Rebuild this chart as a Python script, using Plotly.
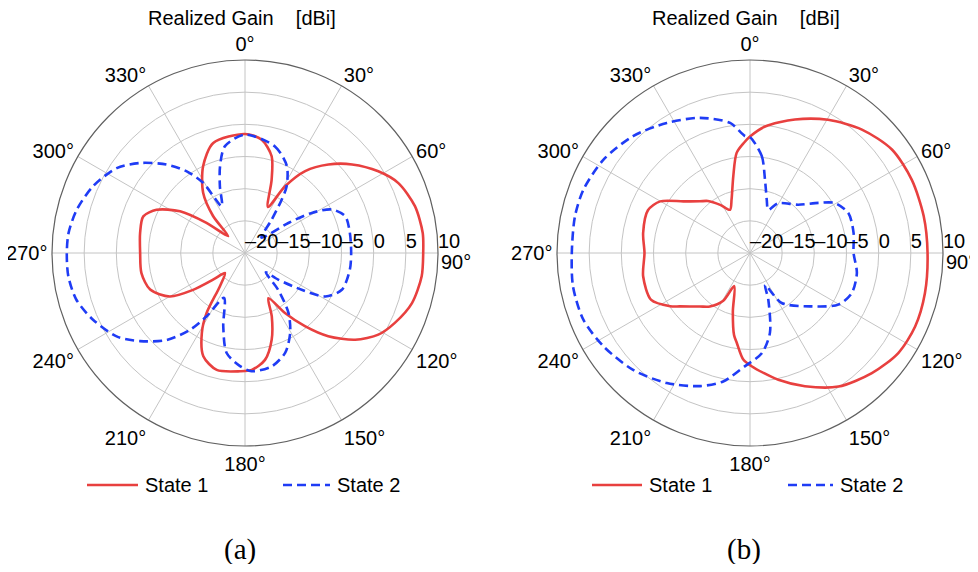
import plotly.graph_objects as go

# ---- data (angle in degrees, realized gain in dBi) ----
# (a) State 1
theta_a1 = [0, 8.4, 15.4, 20, 26.5, 31, 36.3, 43.3, 50.4, 58.5, 65.5, 74.6, 83.6, 90, 97.5,
            106.7, 115, 121.5, 128.2, 135, 140.7, 146.3, 152.6, 157.1, 162.9, 169.4, 176.7,
            182.4, 193.6, 202, 208.4, 212.6, 217, 225, 230, 234.6, 240, 248.9, 259, 270,
            280.8, 289.8, 296, 302.7, 308, 315, 319.2, 325.2, 334.3, 343.9, 360]
gain_a1 = [-1.5, -2.2, -4.4, -7.9, -12.0, -7.9, -4.2, -1.1, 1.6, 4.3, 6.2, 7.4, 7.8, 7.7, 7.7,
           7.1, 5.7, 4.3, 1.8, -1.7, -5.3, -8.8, -12.1, -9.3, -5.9, -3.1, -1.8,
           -1.6, -1.3, -2.7, -5.9, -8.9, -13.5, -15.6, -13.6, -10.1, -6.5, -4.2, -3.6, -3.7,
           -3.4, -3.2, -4.7, -8.0, -12.4, -16.3, -12.4, -8.6, -5.0, -2.2, -1.5]

# (a) State 2
theta_a2 = [0, 15.7, 25.7, 32, 34.5, 38.7, 47, 55.3, 59, 63.4, 69.9, 79, 90, 99, 110.8,
            118.4, 123, 128.7, 133, 138, 144, 150.6, 158, 166.7, 176.8, 182.5, 190.4,
            196.5, 205, 211.2, 215.6, 222, 230, 237, 246.3, 254.5, 262.5, 270, 276.5,
            284.4, 293.7, 303.5, 310.6, 318.4, 324.5, 329.2, 333.5, 339.4, 343.9, 349.4, 360]
gain_a2 = [-1.6, -2.8, -5.0, -7.8, -9.9, -13.4, -16.5, -11.8, -7.9, -4.9, -3.4, -3.4, -3.5, -3.5, -3.9,
           -5.8, -9.5, -13.4, -15.6, -12.3, -8.5, -5.7, -3.3, -1.9, -1.6, -2.4, -4.2,
           -8.1, -12.3, -8.5, -5.3, -1.8, 1.3, 3.8, 5.8, 7.2, 7.7, 7.7, 7.6,
           7.0, 5.8, 3.9, 1.5, -1.6, -4.4, -7.3, -11.9, -8.9, -6.0, -3.1, -1.6]

# (b) State 1
theta_b1 = [0, 6.8, 18.6, 30.4, 42.2, 53.9, 65.6, 78, 90, 102.9, 114, 124, 134.6, 146.5,
            157.6, 167.4, 179.2, 183.6, 188.4, 191, 196.3, 205.5, 209.3, 216.9, 223.2,
            232.7, 236.3, 244.6, 257.7, 270, 280.6, 292.7, 299.9, 307.8, 315.9, 321,
            328.2, 335.2, 341, 347.7, 352.4, 357, 360]
gain_b1 = [-1.9, -0.2, 1.9, 4.0, 5.9, 7.3, 7.6, 7.6, 7.6, 7.9, 8.1, 7.8, 6.6, 4.9,
           2.4, 0.2, -2.4, -3.4, -5.9, -7.0, -10.5, -14.3, -11.5, -9.6, -8.6,
           -6.3, -5.1, -3.0, -3.0, -3.6, -3.1, -2.8, -3.9, -6.9, -8.8, -9.6,
           -11.2, -12.6, -11.2, -7.8, -4.3, -2.8, -1.9]

# (b) State 2
theta_b2 = [0, 6.9, 11.6, 17.4, 22.9, 29.5, 45, 53.8, 59.5, 67.9, 79, 90, 100.6, 111.5,
            120.3, 130.8, 147.6, 154.7, 158.6, 166, 173.3, 182.5, 191.8, 200.6, 212.6,
            225, 237.5, 248.2, 259.3, 270, 281.8, 290.8, 302.5, 315, 327.4, 339.7,
            351.3, 357.5, 360]
gain_b2 = [-2.0, -4.8, -8.4, -11.3, -12.7, -11.1, -9.4, -6.8, -4.7, -3.5, -3.6, -3.9, -3.1, -3.0,
           -4.1, -7.3, -10.8, -14.5, -12.2, -7.2, -4.3, -2.4, 0.4, 2.1, 4.0,
           5.7, 7.0, 7.9, 8.0, 7.7, 7.8, 7.7, 7.0, 5.7, 4.0, 2.4,
           0.45, -1.8, -2.0]

r_ticks = [-20, -15, -10, -5, 0, 5, 10]
r_tick_text = ["\u201320", "\u201315", "\u201310", "\u20135", "0", "5", "10"]
ang_ticks = list(range(0, 360, 30))
# 90° label is written separately, below the "10" radial label
ang_tick_text = ["" if a == 90 else f"{a}°" for a in ang_ticks]
series_names = ["State 1", "State 2"]

RED = "#e8403f"
BLUE = "#1f3cf5"
DASH = "9px,5px"
FONT = "Liberation Sans, Arial, sans-serif"

# page body has an 8px margin, so the figure is 16px smaller than the window
W, H, OFF = 962, 556, 8


def px(x):
    return (x - OFF) / W


def py(y):
    return 1 - (y - OFF) / H


fig = go.Figure()

panels = [("polar", theta_a1, gain_a1, theta_a2, gain_a2),
          ("polar2", theta_b1, gain_b1, theta_b2, gain_b2)]

for sub, t1, g1, t2, g2 in panels:
    fig.add_trace(go.Scatterpolar(theta=t1, r=g1, mode="lines", name=series_names[0],
                                  line=dict(color=RED, width=2.6, shape="spline", smoothing=0.8),
                                  subplot=sub, showlegend=False))
    fig.add_trace(go.Scatterpolar(theta=t2, r=g2, mode="lines", name=series_names[1],
                                  line=dict(color=BLUE, width=2.6, dash=DASH,
                                            shape="spline", smoothing=0.8),
                                  subplot=sub, showlegend=False))
    # radial tick labels along the 90 deg spoke
    fig.add_trace(go.Scatterpolar(theta=[90] * len(r_ticks), r=r_ticks, mode="text",
                                  text=r_tick_text, textposition="top right",
                                  textfont=dict(size=20, color="black", family=FONT),
                                  cliponaxis=False, showlegend=False, hoverinfo="skip",
                                  subplot=sub))

polar_style = dict(
    bgcolor="white",
    radialaxis=dict(range=[-20, 10], tickvals=r_ticks, showticklabels=False,
                    ticks="", showline=False, gridcolor="#c4c4c4", gridwidth=1),
    angularaxis=dict(rotation=90, direction="clockwise", tickmode="array",
                     tickvals=ang_ticks, ticktext=ang_tick_text,
                     ticks="", showline=True, linecolor="#606060", linewidth=1.2,
                     gridcolor="#c4c4c4", gridwidth=1,
                     tickfont=dict(size=20, color="black", family=FONT)),
)

fig.update_layout(
    width=W, height=H,
    paper_bgcolor="white",
    margin=dict(l=0, r=0, t=0, b=0),
    font=dict(family=FONT, color="black"),
    polar=dict(domain=dict(x=[px(52), px(438)], y=[py(446), py(60)]), **polar_style),
    polar2=dict(domain=dict(x=[px(557), px(943)], y=[py(446), py(60)]), **polar_style),
    showlegend=False,
)

nb = "\u00a0"
# titles, captions and the 90° labels
for cx, cap_x, cap, x90 in [(242, 240, "(a)", 440), (746, 744, "(b)", 945)]:
    fig.add_annotation(x=px(cx), y=py(18), xref="paper", yref="paper",
                       xanchor="center", yanchor="middle",
                       text=f"Realized Gain{nb * 3} [dBi]", showarrow=False,
                       font=dict(size=20, color="black", family=FONT))
    fig.add_annotation(x=px(cap_x), y=py(549), xref="paper", yref="paper",
                       xanchor="center", yanchor="middle",
                       text=cap, showarrow=False,
                       font=dict(size=29, color="black",
                                 family="Liberation Serif, Times New Roman, serif"))
    fig.add_annotation(x=px(x90), y=py(262), xref="paper", yref="paper",
                       xanchor="left", yanchor="middle", text="90°", showarrow=False,
                       borderpad=0, font=dict(size=20, color="black", family=FONT))

# legends under each panel
legend_rows = [(87, 138, 143, 283, 330, 335), (592, 642, 647, 788, 833, 838)]
for l1a, l1b, t1x, l2a, l2b, t2x in legend_rows:
    ly = py(485)
    fig.add_shape(type="line", xref="paper", yref="paper", x0=px(l1a), x1=px(l1b),
                  y0=ly, y1=ly, line=dict(color=RED, width=2.6))
    fig.add_shape(type="line", xref="paper", yref="paper", x0=px(l2a), x1=px(l2b),
                  y0=ly, y1=ly, line=dict(color=BLUE, width=2.6, dash=DASH))
    for tx, name in [(t1x, series_names[0]), (t2x, series_names[1])]:
        fig.add_annotation(x=px(tx), y=ly, xref="paper", yref="paper",
                           xanchor="left", yanchor="middle", text=name,
                           showarrow=False, font=dict(size=20, color="black", family=FONT))

fig.write_html("out.html")
